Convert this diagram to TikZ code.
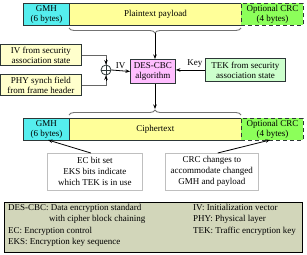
\documentclass[tikz,border=0pt]{standalone}
\usepackage{fontspec}
\setmainfont{Liberation Serif}
\usetikzlibrary{arrows.meta,decorations.pathreplacing,calc}
\definecolor{gmhcyan}{RGB}{85,238,238}
\definecolor{ptyellow}{RGB}{255,255,153}
\definecolor{crcgreen}{RGB}{140,255,90}
\definecolor{ivyellow}{RGB}{255,255,204}
\definecolor{despink}{RGB}{255,190,255}
\definecolor{tekgreen}{RGB}{204,255,204}
\definecolor{legfill}{RGB}{210,214,186}
\definecolor{edgecol}{RGB}{45,55,55}
\begin{document}
\begin{tikzpicture}[x=1pt,y=1pt,
  every node/.style={font=\fontsize{9}{10}\selectfont},
  box/.style={draw=edgecol,line width=0.9pt,inner sep=0pt,align=center,anchor=north west},
  crcbox/.style={box,fill=crcgreen,dashed,dash pattern=on 4pt off 3pt},
  notebox/.style={draw=black!25,fill=white,line width=0.6pt,inner sep=0pt,align=center,anchor=north west,
    font=\fontsize{9}{11}\selectfont},
  arr/.style={-{Stealth[length=4.5pt,width=3.5pt]},line width=0.8pt,black},
  brc/.style={draw=black!55,line width=0.9pt,decorate,decoration={brace,amplitude=5pt}},
  leg/.style={anchor=base west,inner sep=0pt}
]
\useasboundingbox (0,0) rectangle (307,-254);
% legend background
\node[draw=black,fill=legfill,line width=1.2pt,anchor=north west,inner sep=0pt,
  minimum width=298pt,minimum height=50pt] (lg) at (4,-202) {};
% top row
\node[box,fill=gmhcyan,minimum width=46pt,minimum height=22pt] (gmh1) at (23,-3) {GMH\\(6 bytes)};
\node[box,fill=ptyellow,minimum width=172pt,minimum height=22pt] (pt) at (69,-3) {Plaintext payload};
\node[crcbox,minimum width=62pt,minimum height=22pt] (crc1) at (241,-3) {Optional CRC\\(4 bytes)};
% top brace
\draw[brc,decoration={mirror}] (69,-28) -- (241,-28);
\coordinate (bt) at (155,-33);
% side inputs
\node[box,fill=ivyellow,minimum width=81pt,minimum height=21pt] (iv) at (0,-44) {IV from security\\association state};
\node[box,fill=ivyellow,minimum width=81pt,minimum height=21pt] (phy) at (0,-74) {PHY synch field\\from frame header};
\node[draw=edgecol,line width=0.8pt,circle,minimum size=10pt,inner sep=0pt] (xor) at (106,-70) {};
\draw[line width=0.8pt,edgecol] (xor.north) -- (xor.south) (xor.west) -- (xor.east);
\node[box,fill=despink,minimum width=45pt,minimum height=24pt] (des) at (130,-59) {DES-CBC\\algorithm};
\node[box,fill=tekgreen,minimum width=80pt,minimum height=23pt] (tek) at (205,-58) {TEK from security\\association state};
\draw[arr] (bt) -- (bt|-des.north);
\draw[line width=0.8pt,black!60] (iv.east) -| (xor.north);
\draw[arr] ($(xor.north)+(0,6)$) -- (xor.north);
\draw[line width=0.8pt,black!60] (phy.east) -| (xor.south);
\draw[arr] ($(xor.south)+(0,-6)$) -- (xor.south);
\draw[arr] (xor.east) -- (des.west) node[midway,above=1pt,inner sep=1pt,fill=white] (ivl) {IV};
\draw[arr] (tek.west) -- (tek.west-|des.east) node[pos=0.35,above=1pt,inner sep=1pt,fill=white] (keyl) {Key};
% bottom brace
\draw[brc] (69,-115) -- (241,-115);
\coordinate (bb) at (155,-109);
\draw[arr] (bb|-des.south) -- (bb);
% bottom row
\node[box,fill=gmhcyan,minimum width=46pt,minimum height=22pt] (gmh2) at (23,-118) {GMH\\(6 bytes)};
\node[box,fill=ptyellow,minimum width=172pt,minimum height=22pt] (ct) at (69,-118) {Ciphertext};
\node[crcbox,minimum width=62pt,minimum height=22pt] (crc2) at (241,-118) {Optional CRC\\(4 bytes)};
% notes
\node[notebox,minimum width=95pt,minimum height=37pt] (n1) at (47,-153) {EC bit set\\EKS bits indicate\\which TEK is in use};
\node[notebox,minimum width=93pt,minimum height=37pt] (n2) at (165,-153) {CRC changes to\\accommodate changed\\GMH and payload};
\coordinate (n1a) at ($(n1.north)+(-4,0)$);
\coordinate (g2b) at (48,-140);
\draw[arr] (n1a) -- (g2b);
\coordinate (n2a) at ($(n2.north)+(6,0)$);
\coordinate (c2b) at (270,-140);
\draw[arr] (n2a) -- (c2b);
% legend text
\node[leg] (l1) at (8,-210) {DES-CBC: Data encryption standard};
\node[leg] (l2) at (49,-221) {with cipher block chaining};
\node[leg] (l3) at (8,-233) {EC: Encryption control};
\node[leg] (l4) at (8,-244) {EKS: Encryption key sequence};
\node[leg] (r1) at (193,-210) {IV: Initialization vector};
\node[leg] (r2) at (193,-221) {PHY: Physical layer};
\node[leg] (r3) at (193,-233) {TEK: Traffic encryption key};
\end{tikzpicture}
\end{document}
